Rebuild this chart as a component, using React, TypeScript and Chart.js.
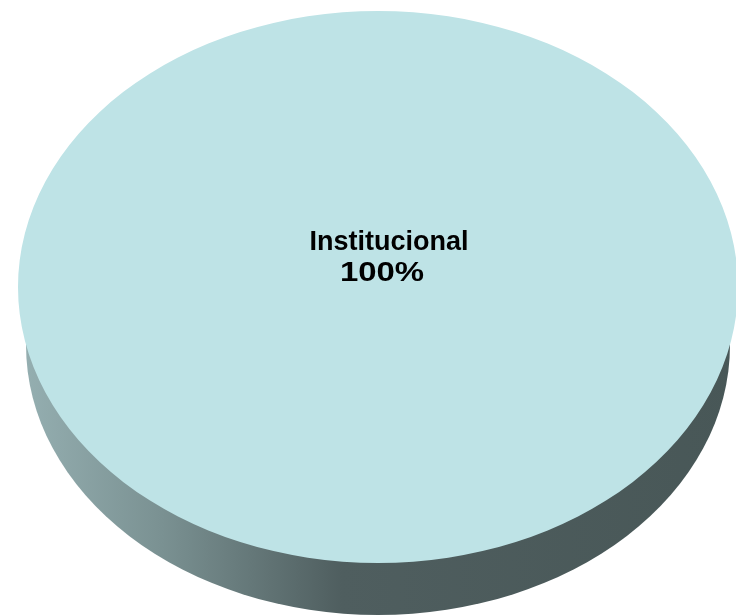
import React, { useEffect, useRef } from "react";
import { Chart, registerables } from "chart.js";

Chart.register(...registerables);

const categories = ["Institucional"];
const values = [100];
const sliceColors = ["#bee3e6"];

const ASPECT_X = 360 / 276; // horizontal stretch of the tilted pie top
const DEPTH = 58; // offset of the bottom rim
const BOTTOM_SHRINK_X = 8;
const BOTTOM_SHRINK_Y = 6;

const pie3dPlugin = {
  id: "pie3d",
  beforeDatasetsDraw(chart: any) {
    const arc = chart.getDatasetMeta(0).data[0];
    if (!arc) return;
    const { x, y, outerRadius } = arc;
    const ctx = chart.ctx;
    const rx = outerRadius * ASPECT_X;
    const ry = outerRadius;
    ctx.save();
    const g = ctx.createLinearGradient(x - rx, 0, x + rx, 0);
    g.addColorStop(0, "#96b0b2");
    g.addColorStop(0.2, "#7a9192");
    g.addColorStop(0.45, "#4f5e5f");
    g.addColorStop(1, "#485757");
    ctx.beginPath();
    ctx.ellipse(x, y + DEPTH, rx - BOTTOM_SHRINK_X, ry - BOTTOM_SHRINK_Y, 0, 0, Math.PI * 2, false);
    ctx.closePath();
    ctx.fillStyle = g;
    ctx.fill();
    ctx.restore();
    ctx.save();
    ctx.translate(x, y);
    ctx.scale(ASPECT_X, 1);
    ctx.translate(-x, -y);
  },
  afterDatasetsDraw(chart: any) {
    chart.ctx.restore();
  },
  afterDraw(chart: any) {
    const arc = chart.getDatasetMeta(0).data[0];
    if (!arc) return;
    const ctx = chart.ctx;
    const data = chart.data.datasets[0].data as number[];
    const total = data.reduce((a, b) => a + b, 0);
    ctx.save();
    ctx.fillStyle = "#000";
    ctx.font = "bold 27px 'Liberation Sans', Arial, sans-serif";
    ctx.textAlign = "center";
    ctx.textBaseline = "middle";
    const cx = arc.x + 11;
    const cy = arc.y - 29;
    ctx.fillText(String(chart.data.labels[0]), cx, cy - 15);
    ctx.save();
    ctx.translate(cx - 7, cy + 16);
    ctx.scale(1.22, 1);
    ctx.fillText(Math.round((data[0] / total) * 100) + "%", 0, 0);
    ctx.restore();
    ctx.restore();
  },
};

export default function App() {
  const ref = useRef<HTMLCanvasElement>(null);
  useEffect(() => {
    const chart = new Chart(ref.current!, {
      type: "pie",
      data: {
        labels: categories,
        datasets: [
          {
            data: values,
            backgroundColor: sliceColors,
            borderWidth: 0,
            hoverOffset: 0,
          },
        ],
      },
      options: {
        animation: false,
        responsive: true,
        maintainAspectRatio: false,
        layout: { padding: { left: 100, right: 80, top: 11, bottom: 53 } },
        plugins: { legend: { display: false }, tooltip: { enabled: false } },
        events: [],
      },
      plugins: [pie3dPlugin],
    });
    return () => chart.destroy();
  }, []);
  return (
    <div style={{ position: "fixed", left: 0, top: 0, width: 736, height: 616, background: "#fff" }}>
      <canvas ref={ref} />
    </div>
  );
}
